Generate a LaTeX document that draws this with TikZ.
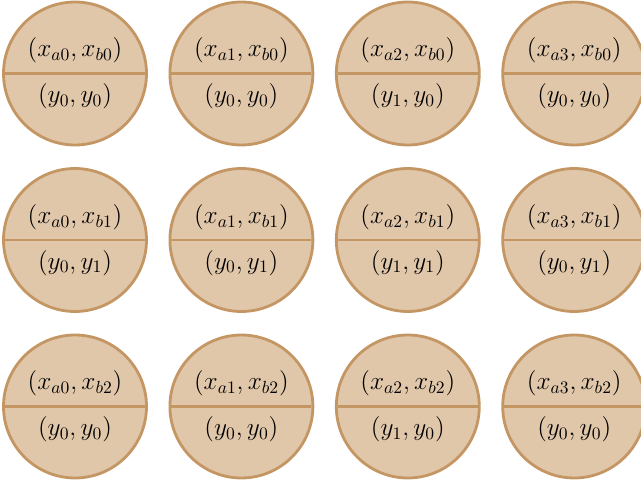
\documentclass[tikz,border=0pt]{standalone}
\usetikzlibrary{shapes.multipart}
\definecolor{cellfill}{RGB}{225,199,170}
\definecolor{celldraw}{RGB}{196,150,100}

\begin{document}
\begin{tikzpicture}[
  x=0.02cm, y=-0.02cm,
  cell/.style={circle split,draw=celldraw,fill=cellfill,line width=1.6pt,
    minimum size=2.86cm,inner xsep=0pt,inner ysep=5pt,font=\Large}]
\useasboundingbox (0,0) rectangle (641,482);
% --- 4x3 grid of split circles: column i gives x_{a i}, row j gives x_{b j} ---
\foreach \i in {0,...,3}
  \foreach \j in {0,...,2}
{
  \pgfmathtruncatemacro{\ya}{\i==2}
  \pgfmathtruncatemacro{\yb}{\j==1}
  \node[cell] (c\i\j) at (75+166.4*\i,73.5+166.5*\j)
    {$(x_{a\i},x_{b\j})$ \nodepart{lower} $(y_{\ya},y_{\yb})$};
}
\end{tikzpicture}
\end{document}
